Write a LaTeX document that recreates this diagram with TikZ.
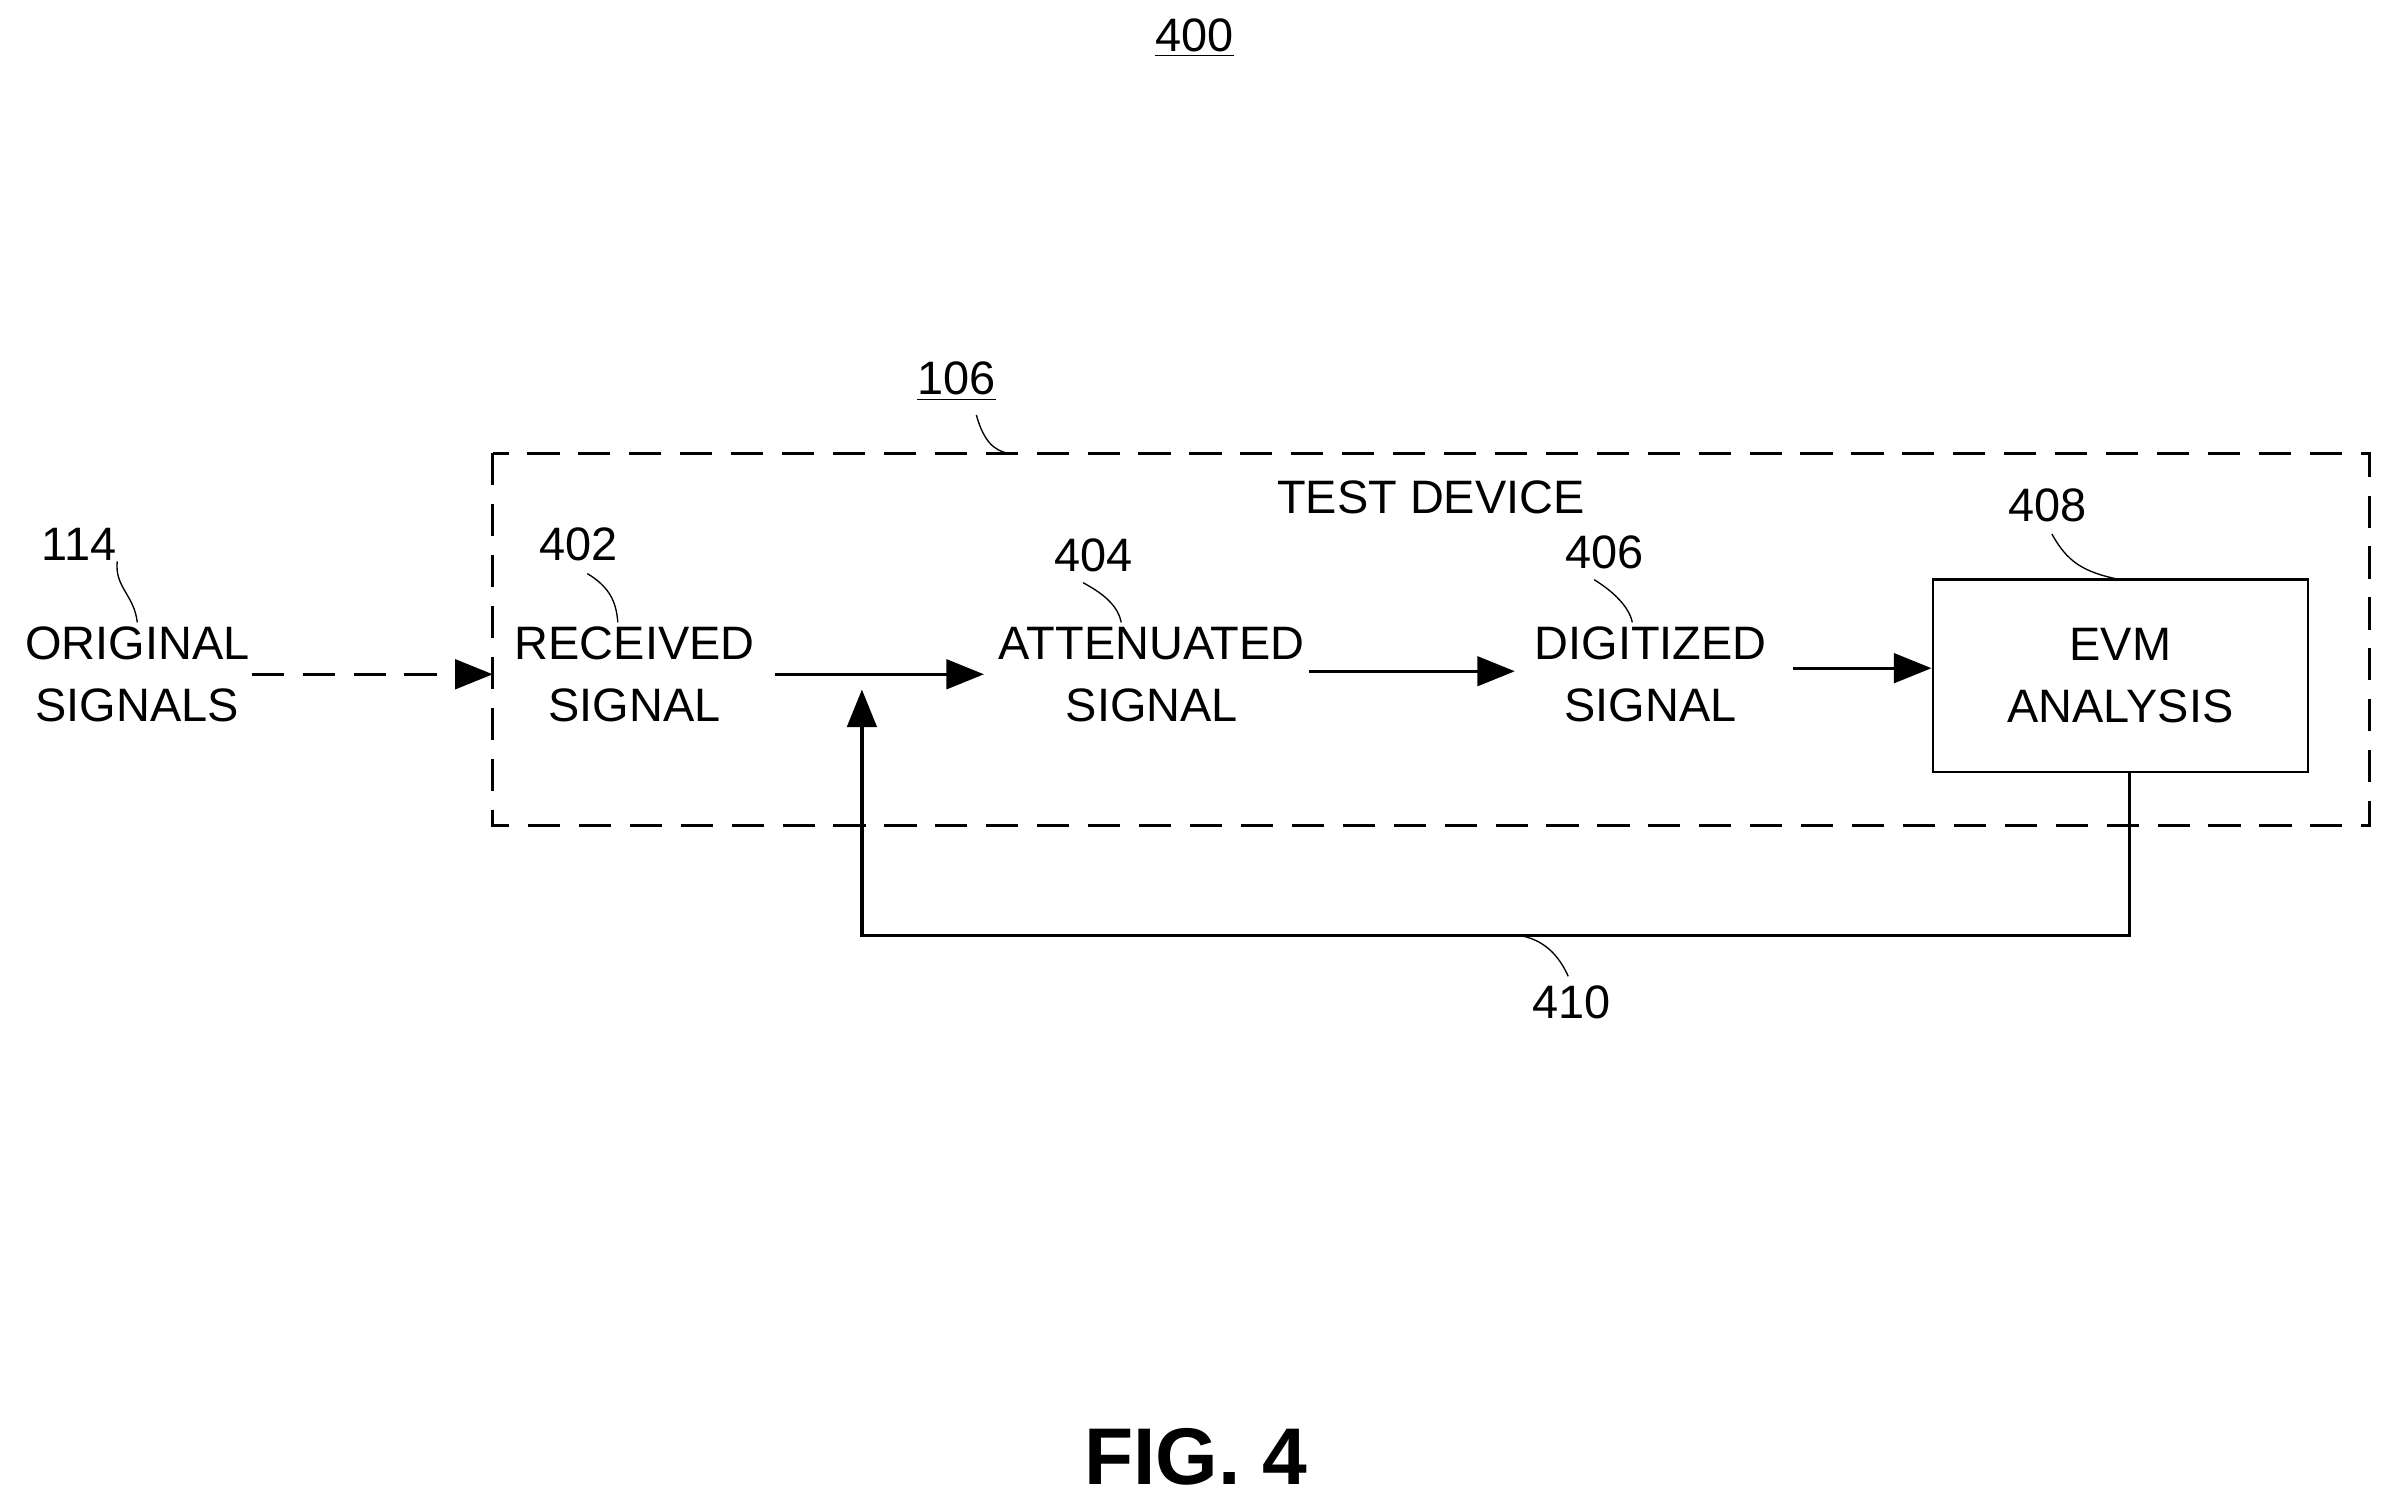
\documentclass[tikz,border=0pt]{standalone}
\usepackage{fontspec}
\setmainfont{Liberation Sans}
\usetikzlibrary{arrows.meta}
\begin{document}
\begin{tikzpicture}[x=0.02cm,y=-0.02cm,
  txt/.style={font=\fontsize{17.5}{21}\selectfont,align=center,inner sep=0pt},
  lead/.style={line width=0.5pt},
  arr/.style={line width=1.2pt,-{Triangle[length=14pt,width=11pt]}},
  box/.style={draw,line width=1pt}]
\useasboundingbox (0,0) rectangle (1568,984);
\node[txt] (n400) at (783,25) {\underline{400}};
\node[txt] (n106) at (627,250) {\underline{106}};
\draw[line width=1.1pt,dash pattern=on 12pt off 7pt] (323,297) rectangle (1553,541);
\coordinate (b106) at (660,297);
\draw[lead] (640,272) .. controls (645,290) and (652,295) .. (b106);
\node[txt] (td) at (938,326) {TEST DEVICE};
\node[txt] (n114) at (52,357) {114};
\node[txt] (orig) at (90,442) {ORIGINAL\\[2pt]SIGNALS};
\draw[lead] (n114.south east) .. controls (75,385) and (88,390) .. (90,408);
\node[txt] (n402) at (379,357) {402};
\node[txt] (rec) at (416,442) {RECEIVED\\[2pt]SIGNAL};
\draw[lead] (385,376) .. controls (400,385) and (404,395) .. (405,408);
\node[txt] (n404) at (717,364) {404};
\node[txt] (att) at (755,442) {ATTENUATED\\[2pt]SIGNAL};
\draw[lead] (710,382) .. controls (725,390) and (733,398) .. (735,408);
\node[txt] (n406) at (1052,362) {406};
\node[txt] (dig) at (1082,442) {DIGITIZED\\[2pt]SIGNAL};
\draw[lead] (1045,380) .. controls (1058,388) and (1068,398) .. (1070,408);
\node[box,txt,minimum width=246*0.02cm,minimum height=126*0.02cm] (evm) at (1390,443) {EVM\\[2pt]ANALYSIS};
\node[txt] (n408) at (1342,331) {408};
\draw[lead] (1345,350) .. controls (1355,368) and (1365,375) .. (evm.north |- 0,380);
\coordinate (o1) at (165,442); \coordinate (o2) at (323,442);
\draw[arr,dash pattern=on 12pt off 7pt] (o1) -- (o2);
\coordinate (r1) at (508,442); \coordinate (a1) at (645,442);
\draw[arr] (r1) -- (a1);
\coordinate (a2) at (858,440); \coordinate (d1) at (993,440);
\draw[arr] (a2) -- (d1);
\coordinate (d2) at (1175,438);
\draw[arr] (d2) -- (evm.west |- d2);
\coordinate (f1) at (1396,506); \coordinate (f2) at (565,613); \coordinate (f3) at (565,452);
\draw[line width=1.2pt,-{Triangle[length=14pt,width=11pt]}] (f1) |- (f2) -- (f3);
\node[txt] (n410) at (1030,657) {410};
\draw[lead] (1028,640) .. controls (1020,622) and (1008,615) .. (995,613);
\node[font=\bfseries\fontsize{30}{36}\selectfont] (fig) at (784,955) {FIG. 4};
\end{tikzpicture}
\end{document}
